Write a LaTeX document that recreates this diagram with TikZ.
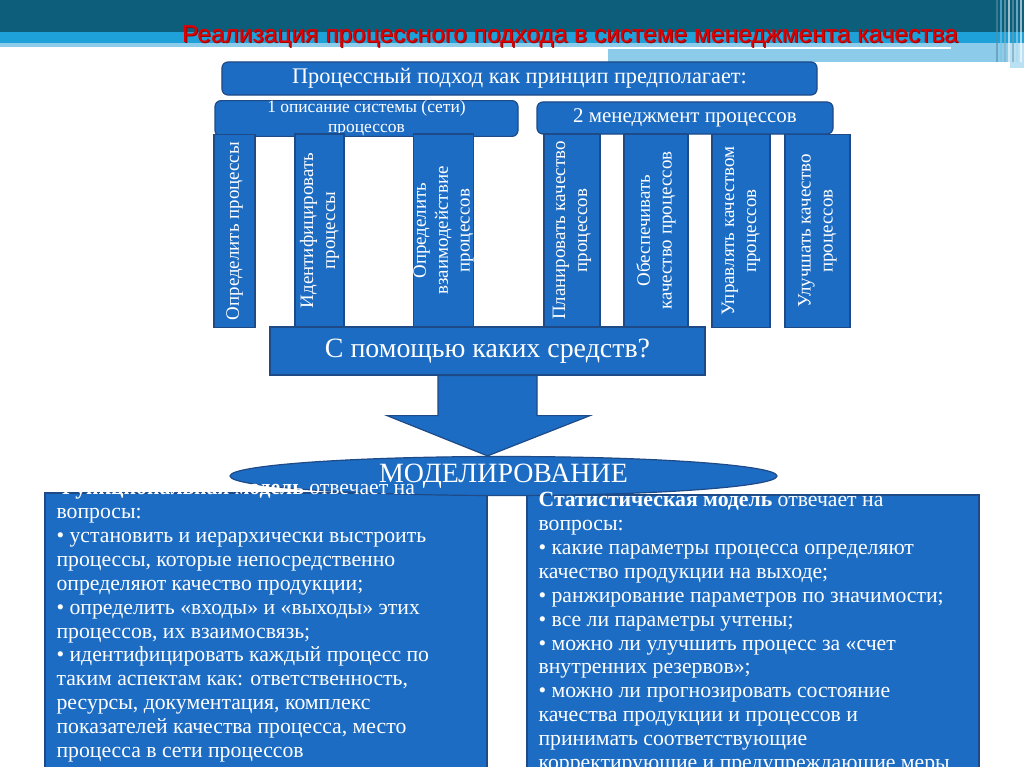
\documentclass[tikz,border=0pt]{standalone}
\usepackage{fontspec}
\setmainfont{Liberation Serif}
\newfontfamily\titlefont{Liberation Sans}
\usetikzlibrary{shapes.geometric,calc}
\definecolor{hdark}{RGB}{12,94,122}
\definecolor{hblue}{RGB}{30,160,216}
\definecolor{hlight}{RGB}{140,203,234}
\definecolor{boxblue}{RGB}{28,108,196}
\definecolor{boxline}{RGB}{30,74,135}
\definecolor{titlered}{RGB}{224,0,0}
\newcommand\fsz[2]{\fontsize{#1}{#2}\selectfont}
\begin{document}
\begin{tikzpicture}[x=1bp,y=-1bp,
  box/.style={draw=boxline, line width=1.2bp, fill=boxblue, text=white, inner sep=0pt, align=center},
  rbox/.style={box, rounded corners=6bp},
  vbox/.style={box, rotate=90, minimum width=193bp, minimum height=#1, font=\fsz{19}{22}},
  bodytext/.style={text=white, inner sep=0pt, align=left, font=\fsz{21.8}{24}},
  arrowst/.style={draw=boxline, line width=1.2bp, fill=boxblue}
]
\useasboundingbox (0,0) rectangle (1024,767);
\fill[white] (0,0) rectangle (1024,767);
% header bands
\fill[hdark] (0,0) rectangle (1024,32);
\fill[hblue] (0,32) rectangle (1024,43);
\fill[hlight] (0,43) rectangle (1024,47);
\fill[hlight] (608,43) rectangle (1010,62);
\fill[white] (608,47.5) rectangle (951,49.5);
\fill[hlight!60] (1010,43) rectangle (1024,68);
\foreach \xx/\cc in {996/hdark!70!white, 1000/hblue!60!white, 1004/hdark!50!white, 1008/white, 1012/hdark!60!white, 1016/hblue!40!white, 1020/white}
  \fill[\cc, opacity=0.6] (\xx,0) rectangle ++(2,62);
% title
\node[text=titlered!70!black, font=\titlefont\fsz{24.6}{27}, inner sep=0pt] (titleshadow) at (571,37.8) {Реализация процессного подхода в системе менеджмента качества};
\node[text=titlered, font=\titlefont\fsz{24.6}{27}, inner sep=0pt] (title) at (570,37) {Реализация процессного подхода в системе менеджмента качества};
% top boxes
\node[rbox, minimum width=595bp, minimum height=33bp, font=\fsz{22.4}{25}] (top) at (519.5,78.5) {Процессный подход как принцип предполагает:};
\node[rbox, minimum width=303bp, minimum height=32bp, font=\fsz{17.5}{20}] (g1) at (366.5,118.5) {1 описание системы (сети)\\процессов};
\node[rbox, minimum width=296bp, minimum height=32bp, font=\fsz{21}{24}] (g2) at (685,118) {2 менеджмент процессов};
% vertical boxes
\node[vbox=41bp] (v1) at (234.5,231) {Определить процессы};
\node[vbox=49bp] (v2) at (319.5,230.5) {Идентифицировать\\процессы};
\node[vbox=57bp] (v3) at (443.5,230.5) {Определить\\взаимодействие\\процессов};
\node[vbox=56bp] (v4) at (572,230.5) {Планировать качество\\процессов};
\node[vbox=64bp] (v5) at (656,230.5) {Обеспечивать\\качество процессов};
\node[vbox=58bp] (v6) at (741,231) {Управлять качеством\\процессов};
\node[vbox=65bp] (v7) at (817.5,231) {Улучшать качество\\процессов};
% question box
\node[box, minimum width=435bp, minimum height=48bp, font=\fsz{28}{31}] (q) at (487.5,351) {С помощью каких средств?};
% content boxes
\node[box, minimum width=442bp, minimum height=292bp] (lb) at (266,639) {};
\node[box, minimum width=452bp, minimum height=290bp] (rb) at (753,640) {};
% ellipse
\node[ellipse, draw=boxline, line width=1.2bp, fill=boxblue, text=white, inner sep=0pt, minimum width=547bp, minimum height=39bp, font=\fsz{28}{31}] (model) at (503.5,476) {МОДЕЛИРОВАНИЕ};
% block arrow
\coordinate (tip) at (q.south |- model.north);
\filldraw[arrowst] ($(q.south)+(-49.5,0)$) -- ($(q.south)+(49.5,0)$) -- ($(q.south)+(49.5,40)$) -- ($(q.south)+(102.5,40)$) -- (tip) -- ($(q.south)+(-100.5,40)$) -- ($(q.south)+(-49.5,40)$) -- cycle;
% texts
\node[bodytext, anchor=north west] (lt) at ($(lb.north west)+(12,-14.8)$) {\strut\textbf{Функциональная модель} отвечает на\\вопросы:\\• установить и иерархически выстроить\\процессы, которые непосредственно\\определяют качество продукции;\\• определить «входы» и «выходы» этих\\процессов, их взаимосвязь;\\• идентифицировать каждый процесс по\\таким аспектам как: ответственность,\\ресурсы, документация, комплекс\\показателей качества процесса, место\\процесса в сети процессов};
\node[bodytext, anchor=north west] (rt) at ($(rb.north west)+(12,-4.8)$) {\strut\textbf{Статистическая модель} отвечает на\\вопросы:\\• какие параметры процесса определяют\\качество продукции на выходе;\\• ранжирование параметров по значимости;\\• все ли параметры учтены;\\• можно ли улучшить процесс за «счет\\внутренних резервов»;\\• можно ли прогнозировать состояние\\качества продукции и процессов и\\принимать соответствующие\\корректирующие и предупреждающие меры};
\end{tikzpicture}
\end{document}
